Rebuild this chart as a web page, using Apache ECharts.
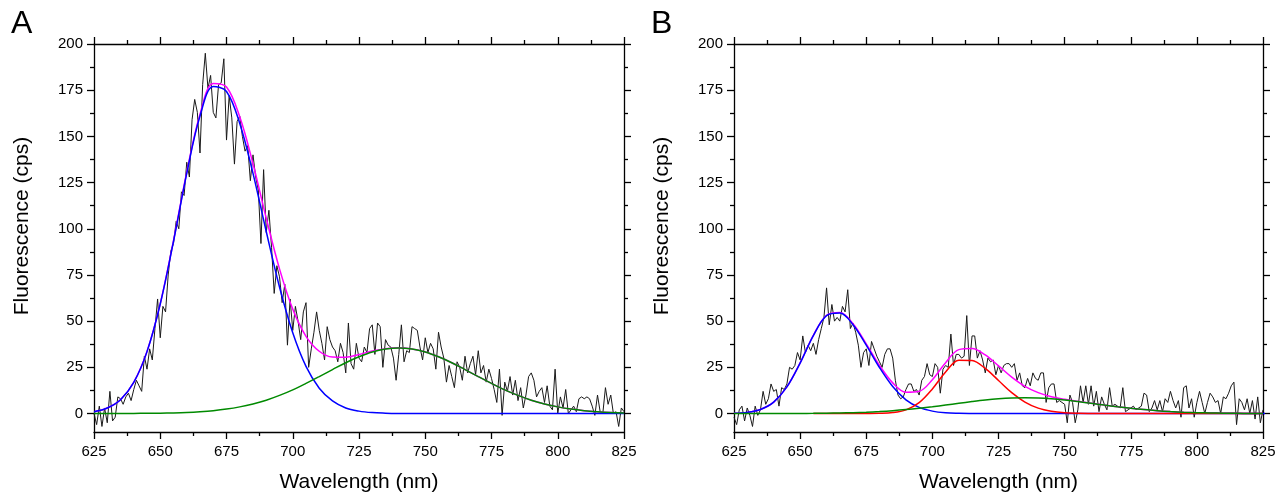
<!DOCTYPE html>
<html><head><meta charset="utf-8">
<script src="https://cdn.jsdelivr.net/npm/echarts@6/dist/echarts.min.js"></script>
<style>html,body{margin:0;padding:0;background:#fff}#c{width:1281px;height:495px}</style>
</head><body><div id="c"></div>
<script>
// ---- axes ----
const X_MIN = 625, X_MAX = 825, X_INTERVAL = 25;
const Y_MIN = -10, Y_MAX = 200;
const yTickValues = [0, 25, 50, 75, 100, 125, 150, 175, 200];
const yMinorValues = [12.5, 37.5, 62.5, 87.5, 112.5, 137.5, 162.5, 187.5];
const panelLabels = ['A', 'B'];
const xTitle = 'Wavelength (nm)';
const yTitle = 'Fluorescence (cps)';

// ---- measured spectra (1 nm steps from 625 nm) ----
const rawStartNm = 625, rawStepNm = 1;
const rawA = [
  0, -6, 4, -7, 3, -5, 12, -4, -2, 9,
  8, 5, 9, 11, 7, 13, 18, 15, 12, 31,
  24, 35, 29, 46, 62, 41, 58, 55, 75, 88,
  92, 104, 100, 120, 118, 136, 128, 159, 170, 163,
  141, 178, 195, 176, 183, 163, 160, 178, 179, 192,
  148, 172, 160, 135, 158, 161, 150, 142, 145, 126,
  140, 128, 121, 92, 132, 98, 110, 90, 65, 80,
  74, 60, 70, 37, 62, 45, 58, 50, 40, 55,
  60, 25, 35, 44, 55, 45, 38, 29, 47, 40,
  36, 34, 28, 38, 33, 22, 49, 27, 24, 38,
  30, 28, 36, 33, 46, 48, 32, 49, 47, 25,
  40, 37, 36, 30, 18, 32, 48, 28, 34, 33,
  47, 46, 45, 36, 29, 41, 33, 38, 35, 24,
  44, 36, 30, 17, 26, 20, 14, 28, 25, 18,
  31, 22, 27, 31, 21, 34, 22, 26, 17, 24,
  19, 13, 6, 24, -1, 17, 12, 20, 10, 18,
  7, 14, 3, 10, 20, 22, 18, 9, 12, 14,
  6, 15, 4, 2, 24, 0, 9, 3, 13, 0,
  2, 4, 1, 8, 9, 8, 9, 8, 4, -1,
  10, 1, 0, 14, 5, 10, 0, 1, -7, 3,
  1
];
const rawB = [
  -2, -6, 2, 4, -4, 3, -1, -7, 4, -1,
  2, 12, 5, 8, 16, 12, 13, 4, 14, 13,
  16, 25, 24, 26, 33, 29, 42, 33, 37, 34,
  38, 32, 40, 46, 52, 68, 48, 59, 50, 52,
  50, 58, 55, 67, 46, 49, 44, 37, 25, 33,
  35, 26, 39, 35, 31, 28, 25, 32, 35, 35,
  30, 18, 10, 8, 9, 13, 16, 16, 12, 13,
  10, 18, 20, 27, 21, 20, 27, 25, 11, 24,
  26, 25, 43, 26, 32, 32, 30, 31, 53, 26,
  42, 42, 30, 34, 29, 22, 30, 28, 29, 21,
  26, 22, 26, 27, 27, 25, 27, 18, 22, 15,
  14, 19, 15, 22, 19, 18, 22, 22, 6, 14,
  16, 16, 6, 7, 6, 5, -5, 10, 6, -5,
  2, 15, 6, 15, 5, 15, 4, 12, 1, 9,
  5, 2, 14, 4, 5, 4, 3, 14, 1, 2,
  3, 4, 2, 3, 4, 11, 10, 1, 3, 7,
  2, 7, 1, 8, 6, 12, 7, 3, 7, -2,
  14, 15, 3, 8, -2, 6, 12, 6, 0, 6,
  11, 9, 6, 7, 0, 9, 8, 11, 15, 17,
  -6, 8, 6, 2, 8, 0, 7, -3, 9, -5,
  2
];

// ---- fitted components (5 nm steps from 625 nm) ----
const fitStartNm = 625, fitStepNm = 5;
const blueA = [1.0, 3.0, 7.5, 16.8, 33.5, 59.3, 93.2, 130, 161, 177, 174.3, 157, 130, 98.5, 68.5, 43.7, 25.5, 13.7, 6.8, 3.0, 1.3, 0.5, 0.2, 0.05,
  0, 0, 0, 0, 0, 0, 0, 0, 0, 0, 0, 0, 0, 0, 0, 0, 0];
const greenA = [0, 0.02, 0.04, 0.06, 0.12, 0.2, 0.35, 0.6, 1.0, 1.56, 2.4, 3.6, 5.2, 7.2, 9.8, 12.8, 16.3, 20, 23.8, 27.5, 30.7, 33.3, 34.9, 35.5,
  34.9, 33.3, 30.7, 27.5, 23.8, 20, 16.3, 12.8, 9.8, 7.2, 5.2, 3.6, 2.4, 1.56, 1.0, 0.6, 0.35];
const magentaA = [1.0, 3.0, 7.5, 16.9, 33.6, 59.5, 93.6, 130.6, 162, 178.6, 176.7, 160.6, 135.2, 105.7, 78.3, 56.5, 41.8, 33.7, 30.6, 30.5, 32.0, 33.8, 35.1, 35.55,
  34.9, 33.3, 30.7, 27.5, 23.8, 20, 16.3, 12.8, 9.8, 7.2, 5.2, 3.6, 2.4, 1.56, 1.0, 0.6, 0.35];

const blueB = [0.14, 0.6, 2.2, 6.2, 14.4, 27.3, 42.2, 53, 54.4, 48.1, 37, 24.9, 14.6, 7.4, 3.3, 1.3, 0.4, 0.13, 0.04,
  0, 0, 0, 0, 0, 0, 0, 0, 0, 0, 0, 0, 0, 0, 0, 0, 0, 0, 0, 0, 0, 0, 0];
const greenB = [0, 0.01, 0.01, 0.02, 0.04, 0.06, 0.1, 0.18, 0.3, 0.47, 0.72, 1.07, 1.53, 2.12, 2.84, 3.67, 4.58, 5.54, 6.46, 7.29, 7.94, 8.36, 8.5,
  8.36, 7.94, 7.29, 6.46, 5.54, 4.58, 3.67, 2.84, 2.12, 1.53, 1.07, 0.72, 0.47, 0.29, 0.18, 0.1, 0.06, 0.03];
const magentaB = [0.14, 0.6, 2.2, 6.2, 14.4, 27.4, 42.3, 53.2, 54.7, 48.6, 37.7, 26.1, 16.6, 11.5, 12.0, 18.3, 27.5, 34.6, 35.2, 31.7, 25.8, 19.7, 14.7,
  11.3, 9.1, 7.7, 6.6, 5.6, 4.6, 3.67, 2.84, 2.12, 1.53, 1.07, 0.72, 0.47, 0.29, 0.18, 0.1, 0.06, 0.03];
const redStartNm = 655;
const redB = [0, 0, 0, 0, 0.02, 0.1, 0.5, 2.0, 5.9, 13.3, 22.5, 28.9, 28.7, 24.4, 17.9, 11.3, 6.2, 2.9, 1.2, 0.4, 0.13, 0.04,
  0, 0, 0, 0, 0, 0, 0, 0, 0, 0, 0, 0, 0];

// ---- styling ----
const FONT = 'Liberation Sans, Arial, sans-serif';
const AX = { color: '#000', width: 1.3 };
const COL = { raw: '#1a1a1a', blue: '#0000ff', green: '#008a00', magenta: '#ff00ff', red: '#ff0000' };
const grids = [
  { left: 94, top: 44, width: 530, height: 388 },
  { left: 734, top: 44, width: 529, height: 388 }
];

function pairs(start, step, arr) { return arr.map((v, i) => [start + i * step, v]); }

const xAxes = [], yAxes = [], series = [];
grids.forEach((g, gi) => {
  const baseX = {
    gridIndex: gi, type: 'value', min: X_MIN, max: X_MAX, interval: X_INTERVAL,
    axisLine: { show: true, onZero: false, lineStyle: AX },
    axisTick: { show: true, length: 7, inside: false, lineStyle: AX },
    minorTick: { show: true, splitNumber: 2, length: 4, lineStyle: AX },
    splitLine: { show: false }, minorSplitLine: { show: false }
  };
  xAxes.push(Object.assign({}, baseX, {
    position: 'bottom',
    axisLabel: { show: true, fontSize: 15, color: '#000', fontFamily: FONT, margin: 12 }
  }));
  xAxes.push(Object.assign({}, baseX, { position: 'top', axisLabel: { show: false } }));

  const baseY = {
    gridIndex: gi, type: 'value', min: Y_MIN, max: Y_MAX,
    splitLine: { show: false }
  };
  yAxes.push(Object.assign({}, baseY, {
    position: 'left',
    axisLine: { show: true, onZero: false, lineStyle: AX },
    axisTick: { show: true, length: 7, customValues: yTickValues, lineStyle: AX },
    axisLabel: { show: true, customValues: yTickValues, fontSize: 15, color: '#000', fontFamily: FONT, margin: 11 }
  }));
  yAxes.push(Object.assign({}, baseY, {
    position: 'left',
    axisLine: { show: false, onZero: false },
    axisTick: { show: true, length: 4, customValues: yMinorValues, lineStyle: AX },
    axisLabel: { show: false }
  }));
  yAxes.push(Object.assign({}, baseY, {
    position: 'right',
    axisLine: { show: true, onZero: false, lineStyle: AX },
    axisTick: { show: true, length: 7, customValues: yTickValues, lineStyle: AX },
    axisLabel: { show: false }
  }));
  yAxes.push(Object.assign({}, baseY, {
    position: 'right',
    axisLine: { show: false, onZero: false },
    axisTick: { show: true, length: 4, customValues: yMinorValues, lineStyle: AX },
    axisLabel: { show: false }
  }));
});

function addLine(gi, data, color, width, z, smooth) {
  series.push({
    type: 'line', xAxisIndex: gi * 2, yAxisIndex: gi * 4, data: data,
    showSymbol: false, symbol: 'none', smooth: smooth ? 0.35 : false,
    lineStyle: { color: color, width: width }, z: z, silent: true, animation: false,
    clip: true
  });
}

// Panel A
addLine(0, pairs(rawStartNm, rawStepNm, rawA), COL.raw, 1, 2, false);
addLine(0, pairs(fitStartNm, fitStepNm, magentaA), COL.magenta, 1.5, 3, true);
addLine(0, pairs(fitStartNm, fitStepNm, blueA), COL.blue, 1.5, 4, true);
addLine(0, pairs(fitStartNm, fitStepNm, greenA), COL.green, 1.5, 6, true);
// Panel B
addLine(1, pairs(rawStartNm, rawStepNm, rawB), COL.raw, 1, 2, false);
addLine(1, pairs(fitStartNm, fitStepNm, magentaB), COL.magenta, 1.5, 3, true);
addLine(1, pairs(fitStartNm, fitStepNm, blueB), COL.blue, 1.5, 4, true);
addLine(1, pairs(redStartNm, fitStepNm, redB), COL.red, 1.5, 5, true);
addLine(1, pairs(fitStartNm, fitStepNm, greenB), COL.green, 1.5, 6, true);

const titleStyle = { fontSize: 21, fontFamily: FONT, fill: '#000', align: 'center', verticalAlign: 'middle' };
const graphics = [];
grids.forEach((g, gi) => {
  graphics.push({ type: 'text', x: g.left + g.width / 2, y: 482,
    style: Object.assign({ text: xTitle }, titleStyle) });
  graphics.push({ type: 'text', x: g.left - 72, y: 226, rotation: Math.PI / 2,
    style: Object.assign({ text: yTitle }, titleStyle) });
  graphics.push({ type: 'text', left: g.left - 83, top: 8,
    style: { text: panelLabels[gi], fontSize: 32, fontFamily: FONT, fill: '#000' } });
});

const chart = echarts.init(document.getElementById('c'), null, { renderer: 'canvas' });
chart.setOption({
  animation: false,
  backgroundColor: '#fff',
  grid: grids.map(g => Object.assign({ containLabel: false }, g)),
  xAxis: xAxes,
  yAxis: yAxes,
  series: series,
  graphic: graphics
});
</script></body></html>
